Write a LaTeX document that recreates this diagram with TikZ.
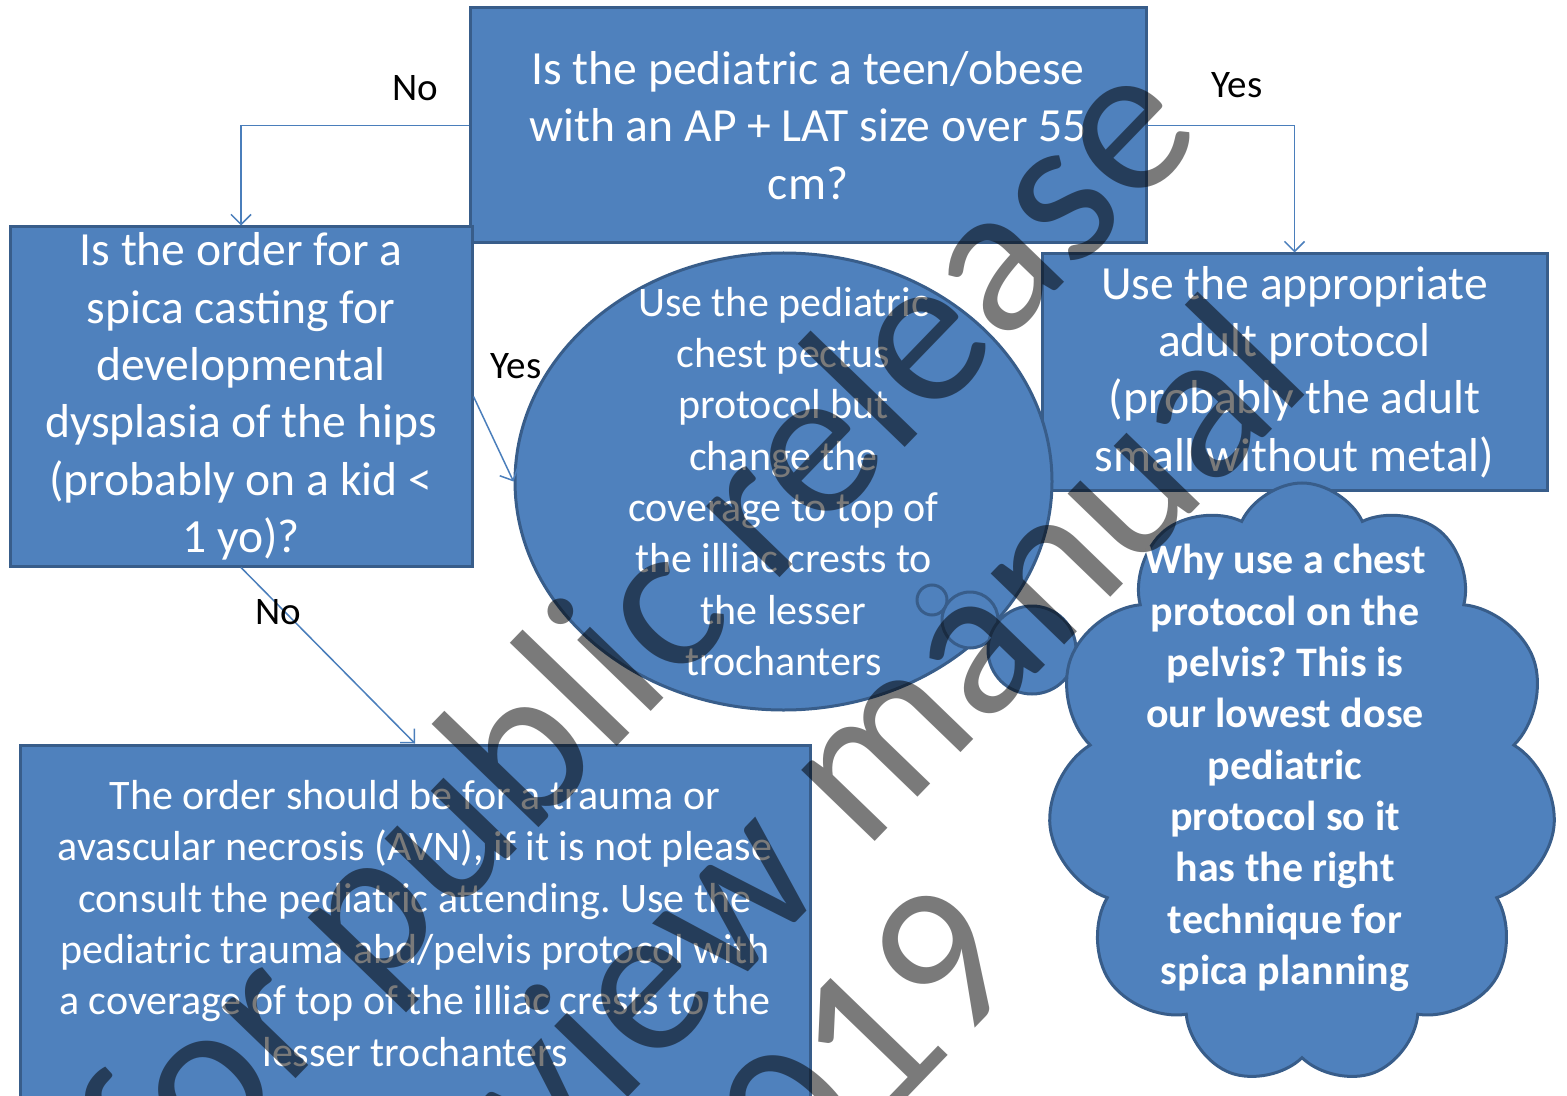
\documentclass[tikz,border=0pt]{standalone}
\usepackage{fontspec}
\setmainfont{Carlito}
\frenchspacing
\usetikzlibrary{shapes.geometric,shapes.symbols,arrows.meta}
\definecolor{fillblue}{HTML}{4F81BD}
\definecolor{edgeblue}{HTML}{385D8A}
\definecolor{linkblue}{HTML}{4A7EBB}

\begin{document}
\begin{tikzpicture}[x=0.5pt, y=-0.5pt,
    box/.style={shape=rectangle, fill=fillblue, draw=edgeblue, line width=1.5pt, text=white, align=center, inner sep=0pt},
    blob/.style={fill=fillblue, draw=edgeblue, line width=1.5pt},
    big/.style={font=\fontsize{23.8}{28.7}\selectfont},
    small/.style={font=\fontsize{21}{25.65}\selectfont},
    lbl/.style={font=\fontsize{19.5}{23}\selectfont},
    link/.style={draw=linkblue, line width=0.75pt, -{Straight Barb[length=5pt,width=10pt]}},
    wmark/.style={text=black, text opacity=0.52, rotate=46, font=\fontsize{107}{120}\selectfont}]
    \useasboundingbox (0,0) rectangle (1567,1096);

    \node at (808, 125.5) (Size) [box, big, minimum width=338pt, minimum height=117.5pt]
        {Is the pediatric a teen/obese\\with an AP + LAT size over 55\\cm?};
    \node at (241, 396.5) (Spica) [box, big, minimum width=231pt, minimum height=169.5pt]
        {Is the order for a\\spica casting for\\developmental\\dysplasia of the hips\\(probably on a kid <\\1 yo)?};
    \node at (1294.5, 372) (Adult) [box, big, minimum width=252.5pt, minimum height=118pt]
        {Use the appropriate\\adult protocol\\(probably the adult\\small without metal)};
    \node at (415, 923.5) (Trauma) [box, small, minimum width=395pt, minimum height=178.5pt]
        {The order should be for a trauma or\\avascular necrosis (AVN), if it is not please\\consult the pediatric attending. Use the\\pediatric trauma abd/pelvis protocol with\\a coverage of top of the illiac crests to the\\lesser trochanters};

    \node at (783.5, 481.5) (Pectus) [shape=ellipse, blob, minimum width=268.5pt, minimum height=228.5pt] {};
    \node at (783.5, 481.5) (PectusText) [text=white, align=center, small]
        {Use the pediatric\\chest pectus\\protocol but\\change the\\coverage to top of\\the illiac crests to\\the lesser\\trochanters};

    % thought bubble
    \node at (932, 600) (Tail1) [shape=circle, blob, inner sep=0pt, minimum size=15pt] {};
    \node at (970, 620) (Tail2) [shape=circle, blob, inner sep=0pt, minimum size=28pt] {};
    \node at (1032, 650) (Tail3) [shape=circle, blob, inner sep=0pt, minimum size=44pt] {};
    \node at (1302, 784) (Why) [shape=cloud, cloud puffs=11, cloud puff arc=130, cloud ignores aspect, blob,
        minimum width=254.5pt, minimum height=301pt] {};
    \node at (1285, 768) (WhyText) [text=white, align=center, font=\fontsize{21}{25.65}\selectfont\bfseries]
        {Why use a chest\\protocol on the\\pelvis? This is\\our lowest dose\\pediatric\\protocol so it\\has the right\\technique for\\spica planning};

    \draw[link] (Size.west) -| (Spica.north);
    \draw[link] (Size.east) -| (Adult.north);
    \draw[link] (Spica.east) -- (Pectus.west);
    \draw[link] (Spica.south) -- (Trauma.north);

    \node at (415, 88) (No1) [lbl] {No};
    \node at (1237, 85) (Yes1) [lbl] {Yes};
    \node at (516, 366) (Yes2) [lbl] {Yes};
    \node at (278, 612) (No2) [lbl] {No};

    % watermark
    \node at (645, 635) (Wm1) [wmark] {for public release};
    \node at (880, 730) (Wm2) [wmark] {view manual};
    \node at (868, 1040) (Wm3) [wmark] {019};
\end{tikzpicture}
\end{document}
